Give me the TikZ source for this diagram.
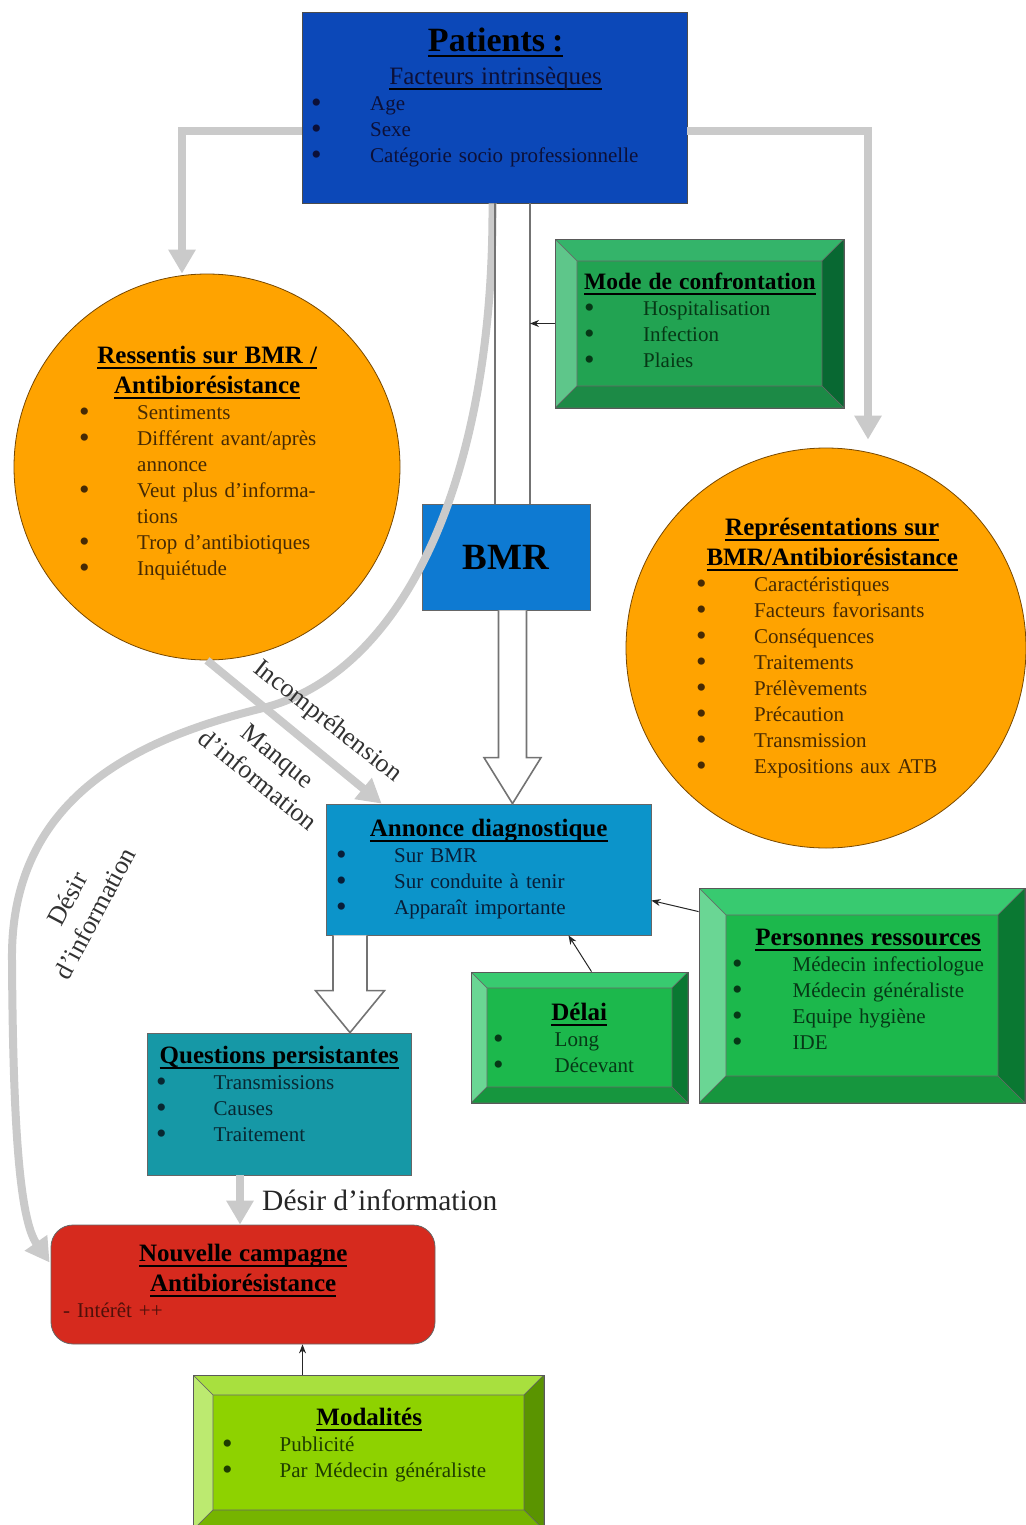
\documentclass[tikz,border=0pt]{standalone}
\usepackage{fontspec}
\setmainfont{Liberation Serif}
\usetikzlibrary{positioning,arrows.meta,calc}

% box colours
\definecolor{patblue}{RGB}{12,72,184}
\definecolor{pattext}{RGB}{12,16,56}
\definecolor{bmrblue}{RGB}{14,122,210}
\definecolor{annblue}{RGB}{12,148,202}
\definecolor{anntext}{RGB}{8,30,56}
\definecolor{qteal}{RGB}{22,152,166}
\definecolor{qtext}{RGB}{8,40,50}
\definecolor{campred}{RGB}{214,42,30}
\definecolor{camptext}{RGB}{80,16,10}
\definecolor{orfill}{RGB}{255,163,0}
\definecolor{ortext}{RGB}{70,42,4}
\definecolor{orline}{RGB}{120,72,0}
\definecolor{grtext}{RGB}{6,56,22}
\definecolor{lmtext}{RGB}{30,60,0}
\definecolor{flowgrey}{RGB}{202,202,202}
\definecolor{lblgrey}{RGB}{50,50,50}
% bevel palettes
\definecolor{mc-face}{RGB}{34,163,82}
\definecolor{mc-top}{RGB}{52,180,106}
\definecolor{mc-left}{RGB}{94,198,138}
\definecolor{mc-right}{RGB}{8,104,50}
\definecolor{mc-bot}{RGB}{28,138,70}
\definecolor{gr-face}{RGB}{28,184,76}
\definecolor{gr-top}{RGB}{56,202,112}
\definecolor{gr-left}{RGB}{106,214,148}
\definecolor{gr-right}{RGB}{10,120,50}
\definecolor{gr-bot}{RGB}{22,150,62}
\definecolor{lm-face}{RGB}{142,210,0}
\definecolor{lm-top}{RGB}{168,224,62}
\definecolor{lm-left}{RGB}{188,234,112}
\definecolor{lm-right}{RGB}{90,148,0}
\definecolor{lm-bot}{RGB}{118,180,0}

\newlength{\bulw}\setlength{\bulw}{58pt}
\newcommand{\bul}{\raisebox{-1.5pt}{\fontsize{30}{26}\selectfont\textbullet}}
\newcommand{\itm}[1]{\par\noindent\makebox[\bulw][l]{\bul}#1}
\newcommand{\cont}[1]{\par\noindent\hspace*{\bulw}#1}
\newcommand{\ulbar}[1]{\leavevmode\setbox0\hbox{#1}\rlap{\color{black}\vrule width\wd0 height -3.2pt depth 5.2pt}\box0}
\newcommand{\bodyfont}{\fontsize{21}{26}\selectfont}
\newcommand{\titfont}{\fontsize{25}{30}\selectfont\bfseries\color{black}}

\tikzset{
  flow/.style={draw=flowgrey,line width=8pt,-{Triangle[width=26pt,length=24pt]}},
  hollow/.style={draw=black!55,line width=1.6pt,fill=white},
  ptr/.style={-{Stealth[length=9pt,width=7pt]},line width=1pt,draw=black!85},
  flatbox/.style={rectangle,draw=#1,line width=0.8pt,inner sep=0pt},
  orball/.style={circle,fill=orfill,draw=orline,line width=0.8pt,inner sep=0pt},
  bevelbox/.style 2 args={rectangle,fill=#1-face,draw=black!65,line width=0.8pt,inner sep=0pt,
    path picture={
      \coordinate (bvA) at (path picture bounding box.north west);
      \coordinate (bvB) at (path picture bounding box.north east);
      \coordinate (bvC) at (path picture bounding box.south east);
      \coordinate (bvD) at (path picture bounding box.south west);
      \coordinate (bva) at ($(bvA)+(#2pt,-#2pt)$);
      \coordinate (bvb) at ($(bvB)+(-#2pt,-#2pt)$);
      \coordinate (bvc) at ($(bvC)+(-#2pt,#2pt)$);
      \coordinate (bvd) at ($(bvD)+(#2pt,#2pt)$);
      \begin{scope}[draw=black!60,line width=0.6pt]
        \filldraw[fill=#1-top] (bvA) -- (bvB) -- (bvb) -- (bva) -- cycle;
        \filldraw[fill=#1-left] (bvA) -- (bva) -- (bvd) -- (bvD) -- cycle;
        \filldraw[fill=#1-right] (bvB) -- (bvC) -- (bvc) -- (bvb) -- cycle;
        \filldraw[fill=#1-bot] (bvD) -- (bvd) -- (bvc) -- (bvC) -- cycle;
      \end{scope}}},
  txt/.style={anchor=north west,inner sep=0pt,align=left,font=\bodyfont},
  lbl/.style={inner sep=0pt,align=center,font=\fontsize{26}{31}\selectfont,text=lblgrey},
}

\begin{document}
\begin{tikzpicture}[x=1pt,y=-1pt]
  \useasboundingbox (0,0) rectangle (1025,1525);
  % boxes and balls
  \node[flatbox=black!70,fill=patblue,minimum width=385pt,minimum height=191pt] (patients) at (494.5,107.5) {};
  \node[orball,minimum size=386pt] (ressentis) at (207,467) {};
  \node[bevelbox={mc}{22},minimum width=289pt,minimum height=169pt] (mode) at (699.5,323.5) {};
  \node[orball,minimum size=400pt] (repres) at (826,648) {};
  \node[flatbox=black!60,fill=bmrblue,minimum width=168pt,minimum height=106pt,
    font=\fontsize{37}{40}\selectfont\bfseries] (bmr) at (506,557) {BMR};
  \node[flatbox=black!60,fill=annblue,minimum width=325pt,minimum height=131pt] (annonce) at (488.5,869.5) {};
  \node[bevelbox={gr}{16},minimum width=217pt,minimum height=131pt] (delai) at (579.5,1037.5) {};
  \node[bevelbox={gr}{27},minimum width=326pt,minimum height=215pt] (personnes) at (862,995.5) {};
  \node[flatbox=black!60,fill=qteal,minimum width=264pt,minimum height=142pt] (questions) at (279,1104) {};
  \node[flatbox=black!60,fill=campred,rounded corners=22pt,minimum width=384pt,minimum height=119pt] (nouvelle) at (243,1284.5) {};
  \node[bevelbox={lm}{20},minimum width=351pt,minimum height=155pt] (modal) at (368.5,1452.5) {};

  % texts
  \node[txt,text width=369pt,text=pattext] (patients-t) at (311,28) {\setlength{\bulw}{59pt}%
    {\centering\color{black}\fontsize{34}{38}\selectfont\bfseries\ulbar{Patients~:}\par}
    {\centering\fontsize{25}{33}\selectfont\ulbar{Facteurs intrinsèques}\par}
    \itm{Age}
    \itm{Sexe}
    \itm{Catégorie socio professionnelle}};
  \node[txt,text width=256pt,text=ortext] (ressentis-t) at (79,346) {%
    {\centering\titfont\ulbar{Ressentis sur BMR /}\\\ulbar{Antibiorésistance}\par}
    \itm{Sentiments}
    \itm{Différent avant/après}
    \cont{annonce}
    \itm{Veut plus d’informa-}
    \cont{tions}
    \itm{Trop d’antibiotiques}
    \itm{Inquiétude}};
  \node[txt,text width=250pt,text=grtext] (mode-t) at (584,273) {\setlength{\bulw}{59pt}%
    {\titfont\fontsize{23.5}{28}\selectfont\ulbar{Mode de confrontation}\par}
    \itm{Hospitalisation}
    \itm{Infection}
    \itm{Plaies}};
  \node[txt,text width=272pt,text=ortext] (repres-t) at (696,518) {%
    {\centering\titfont\ulbar{Représentations sur}\\\ulbar{BMR/Antibiorésistance}\par}
    \itm{Caractéristiques}
    \itm{Facteurs favorisants}
    \itm{Conséquences}
    \itm{Traitements}
    \itm{Prélèvements}
    \itm{Précaution}
    \itm{Transmission}
    \itm{Expositions aux ATB}};
  \node[txt,text width=305pt,text=anntext] (annonce-t) at (336,819) {%
    {\centering\titfont\ulbar{Annonce diagnostique}\par}
    \itm{Sur BMR}
    \itm{Sur conduite à tenir}
    \itm{Apparaît importante}};
  \node[txt,text width=172pt,text=grtext] (delai-t) at (493,1003) {\setlength{\bulw}{61.5pt}%
    {\centering\titfont\ulbar{Délai}\par}
    \itm{Long}
    \itm{Décevant}};
  \node[txt,text width=272pt,text=grtext] (personnes-t) at (732,929) {\setlength{\bulw}{60.5pt}%
    {\centering\titfont\ulbar{Personnes ressources}\par}
    \itm{Médecin infectiologue}
    \itm{Médecin généraliste}
    \itm{Equipe hygiène}
    \itm{IDE}};
  \node[txt,text width=246pt,text=qtext] (questions-t) at (156,1046) {\setlength{\bulw}{57.5pt}%
    {\centering\titfont\ulbar{Questions persistantes}\par}
    \itm{Transmissions}
    \itm{Causes}
    \itm{Traitement}};
  \node[txt,text width=360pt,text=camptext] (nouvelle-t) at (63,1244) {%
    {\centering\titfont\ulbar{Nouvelle campagne}\\\ulbar{Antibiorésistance}\par}
    \par\noindent - Intérêt ++};
  \node[txt,text width=294pt,text=lmtext] (modal-t) at (222,1408) {\setlength{\bulw}{57.5pt}%
    {\centering\titfont\ulbar{Modalités}\par}
    \itm{Publicité}
    \itm{Par Médecin généraliste}};

  % grey flows
  \draw[flow] ($(patients.north west)+(0,119)$) -| ($(ressentis.north)+(-25,0)$);
  \draw[flow] ($(patients.north east)+(0,119)$) -| ($(repres.north)+(42,-8)$);
  \draw[flow] ($(patients.south)+(-2,0)$) .. controls (494,480) and (403,673) .. (263,708)
    .. controls (150,736) and (10,790) .. (12,960)
    .. controls (13,1130) and (20,1220) .. ($(nouvelle.west)+(-1,-22)$);
  \draw[flow] (ressentis.south) -- ($(annonce.north west)+(56,0)$);
  \draw[flow] ($(questions.south)+(-39,0)$) -- ($(nouvelle.north)+(-3,0)$);

  % hollow arrows
  \coordinate (hx1) at (512.5,0);
  \coordinate (hx2) at (350,0);
  \draw[hollow] ($(hx1 |- patients.south)+(-17.5,0)$) -- ($(hx1 |- bmr.north)+(-17.5,0)$)
    ($(hx1 |- patients.south)+(17.5,0)$) -- ($(hx1 |- bmr.north)+(17.5,0)$);
  \filldraw[hollow] ($(hx1 |- bmr.south)+(-14,0)$) -- ($(hx1 |- annonce.north)+(-14,-46)$) -- ++(-14.5,0)
    -- (hx1 |- annonce.north) -- ($(hx1 |- annonce.north)+(28.5,-46)$) -- ++(-14.5,0)
    -- ($(hx1 |- bmr.south)+(14,0)$);
  \filldraw[hollow] ($(hx2 |- annonce.south)+(-17,0)$) -- ($(hx2 |- questions.north)+(-17,-42)$) -- ++(-17.5,0)
    -- (hx2 |- questions.north) -- ($(hx2 |- questions.north)+(34.5,-42)$) -- ++(-17.5,0)
    -- ($(hx2 |- annonce.south)+(17,0)$);

  % black pointers
  \draw[ptr] (mode.west) -- ($(hx1 |- mode.west)+(17.5,0)$);
  \draw[ptr] ($(delai.north)+(12,0)$) -- ($(annonce.south)+(80,0)$);
  \draw[ptr] ($(personnes.north west)+(0,24)$) -- ($(annonce.east)+(0,31)$);
  \draw[ptr] ($(modal.north)+(-66,0)$) -- ($(nouvelle.south)+(59.5,0)$);

  % flow labels
  \node[lbl,rotate=-38] (incomp) at (327,722) {Incompréhension};
  \node[lbl,rotate=-39] (manque) at (268,768) {Manque\\d’information};
  \node[lbl,rotate=62] (desir-l) at (81,906) {Désir\\d’information};
  \node[inner sep=0pt,font=\fontsize{29.5}{32}\selectfont,text=black!85,anchor=west] (desir-b) at (262,1200) {Désir d’information};
\end{tikzpicture}
\end{document}
